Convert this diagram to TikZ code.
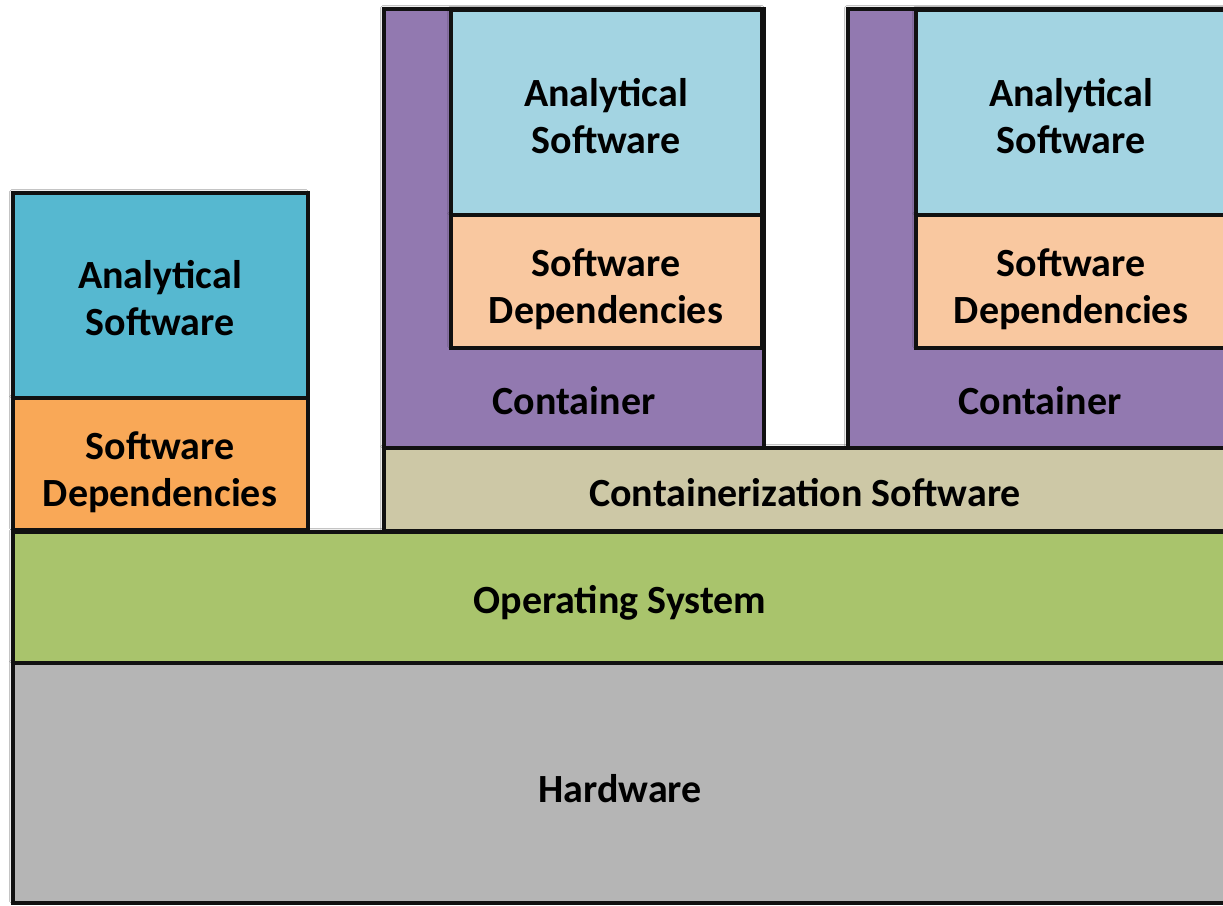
\documentclass[tikz,border=0pt]{standalone}
\usepackage{fontspec}
\setmainfont{Carlito}
\usetikzlibrary{shadows.blur}
\definecolor{anaL}{HTML}{56B8D0}
\definecolor{depL}{HTML}{F9A857}
\definecolor{contC}{HTML}{9279B0}
\definecolor{anaC}{HTML}{A3D4E2}
\definecolor{depC}{HTML}{F9C8A0}
\definecolor{csC}{HTML}{CDC8A6}
\definecolor{osC}{HTML}{A9C46C}
\definecolor{hwC}{HTML}{B5B5B5}
\definecolor{edge}{HTML}{111111}
\tikzset{
  layer/.style={draw=edge, line width=4.5pt, rectangle, inner sep=0pt, outer sep=0pt,
    blur shadow={shadow xshift=-1.5pt, shadow yshift=1.5pt, shadow blur steps=4, shadow opacity=30}},
  lbl/.style={font=\fontsize{40}{47}\selectfont\bfseries, align=center, text=black, inner sep=0pt},
}
\begin{document}
\begin{tikzpicture}[x=1pt,y=-1pt]
\useasboundingbox (0,0) rectangle (1223,905);
\clip (0,0) rectangle (1223,905);
\fill[white] (0,0) rectangle (1223,905);
% bottom layers
\node[layer, fill=hwC, minimum width=1214pt, minimum height=240pt, anchor=north west] (hw) at (13,663) {};
\node[lbl] (hwt) at (620,789) {Hardware};
\node[layer, fill=osC, minimum width=1214pt, minimum height=131pt, anchor=north west] (os) at (13,532) {};
\node[lbl] (ost) at (620,603) {Operating System};
\node[layer, fill=csC, minimum width=844pt, minimum height=83pt, anchor=north west] (cs) at (384,448) {};
\node[lbl] (cst) at (805,493) {Containerization Software};
% left stack
\node[layer, fill=depL, minimum width=295pt, minimum height=132pt, anchor=north west] (depl) at (13,398) {};
\node[lbl] (deplt) at (160,472) {Software\\Dependencies};
\node[layer, fill=anaL, minimum width=295pt, minimum height=205pt, anchor=north west] (anal) at (13,193) {};
\node[lbl] (analt) at (160,298) {Analytical\\Software};
% container 1
\node[layer, fill=contC, minimum width=380pt, minimum height=439pt, anchor=north west] (c1) at (384,9) {};
\node[lbl] (c1t) at (574,401) {Container};
\node[layer, fill=depC, minimum width=311pt, minimum height=133pt, anchor=north west] (dep1) at (451,215) {};
\node[lbl] (dep1t) at (606,289) {Software\\Dependencies};
\node[layer, fill=anaC, minimum width=311pt, minimum height=205pt, anchor=north west] (ana1) at (451,10) {};
\node[lbl] (ana1t) at (606,116) {Analytical\\Software};
% container 2
\node[layer, fill=contC, minimum width=380pt, minimum height=439pt, anchor=north west] (c2) at (848,9) {};
\node[lbl] (c2t) at (1040,401) {Container};
\node[layer, fill=depC, minimum width=311pt, minimum height=133pt, anchor=north west] (dep2) at (916,215) {};
\node[lbl] (dep2t) at (1071,289) {Software\\Dependencies};
\node[layer, fill=anaC, minimum width=311pt, minimum height=205pt, anchor=north west] (ana2) at (916,10) {};
\node[lbl] (ana2t) at (1071,116) {Analytical\\Software};
\end{tikzpicture}
\end{document}
